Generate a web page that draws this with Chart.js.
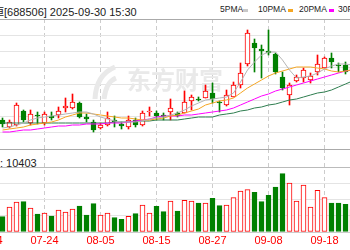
<!DOCTYPE html>
<html>
<head>
<meta charset="utf-8">
<script src="https://cdn.jsdelivr.net/npm/chart.js@4.4.1/dist/chart.umd.min.js"></script>
<style>
  body { margin: 0; width: 350px; height: 250px; overflow: hidden; background: #fff; position: relative; }
  .txt { position: absolute; white-space: nowrap; font-family: "Liberation Sans", "Noto Sans CJK SC", sans-serif; color: #222; }
  #title { left: -40px; top: 3px; font-size: 11px; }
  .lg { top: 4px; font-size: 8.5px; }
  .mk { position: absolute; top: 9px; width: 5px; height: 3px; }
  #volLabel { left: -33px; top: 154px; font-size: 11px; }
  #kline { position: absolute; left: 0; top: 19px; }
  #vol { position: absolute; left: 0; top: 149px; }
</style>
</head>
<body>
<div id="title" class="txt">百利天恒[688506] 2025-09-30 15:30</div>
<div class="txt lg" style="left:220px">5PMA</div><div class="mk" style="left:243px;background:#c8c8c8"></div>
<div class="txt lg" style="left:258px">10PMA</div><div class="mk" style="left:288px;background:#f5a623"></div>
<div class="txt lg" style="left:299px">20PMA</div><div class="mk" style="left:329px;background:#ff00ff"></div>
<div class="txt lg" style="left:338px">30PMA</div>
<div id="volLabel" class="txt">成交量: 10403</div>
<canvas id="kline" width="350" height="130"></canvas>
<canvas id="vol" width="350" height="101"></canvas>
<script>
// 日期刻度 (索引 -> 标签)
const dateTicks = [-2, 6, 14, 22, 30, 38, 46];
const dateLabels = ['07-14', '07-24', '08-05', '08-15', '08-27', '09-08', '09-18'];

// K线数据 07-16 .. 09-24
const opens  = [299,292,294,308,296,304,296,303,304,311,311,316,302,297,291,294,299,295,292,299,294,307,306,304,307,306,306,318,320,321,326,317,314,322,334,355,376,370,368,365,342,324,338,341,339,347,351,361,354,354,349];
const closes = [295,297,314,299,305,303,305,301,308,313,317,302,300,289,294,301,297,293,299,294,306,308,303,302,311,303,317,322,319,328,320,316,324,334,346,386,371,368,366,347,331,334,342,349,343,355,361,357,353,347,352];
const highs  = [301,299,316,309,309,307,307,307,312,321,325,317,305,299,296,307,303,297,303,301,308,312,308,306,320,307,328,324,322,334,336,318,329,337,356,389,380,374,389,366,347,336,344,351,346,364,362,366,356,357,356];
const lows   = [292,291,293,297,294,295,294,299,301,307,310,301,297,287,290,293,292,290,290,292,293,303,299,299,299,302,306,309,318,321,316,307,313,322,331,353,347,341,364,345,329,314,337,337,336,344,351,351,347,345,346];
const volumes = [3825,6250,7500,7575,6000,4500,4750,4000,5500,5000,5750,6500,4250,7075,4250,4750,3575,3175,3925,4575,6750,4750,6425,5075,7750,5250,7925,7750,7250,7250,8425,6575,6750,8575,10250,10575,9925,7575,9175,11250,14575,12250,7750,11750,6250,10425,8575,7250,7250,6925,5575];

// 均线
const ma5  = [291,292,294,296,299,301,302,303,304,305,306,307,307,305,302,300,298,297,297,297,298,300,301,302,304,306,309,313,316,319,320,321,322,326,337,349,357,364,367,367,359,349,341,342,343,346,350,353,355,355,354];
const ma10 = [289,290,291,292,294,295,296,297,299,302,304,306,306,305,304,303,302,301,301,300,299,299,300,301,303,304,306,308,310,314,316,318,319,321,326,331,335,339,343,346,348,350,352,352,352,351,350,348,347,348,349];
const ma20 = [287,287,288,289,289,290,291,292,293,293,294,294,295,295,295,296,296,296,297,298,299,300,302,303,303,303,304,304,305,306,307,308,309,311,314,317,320,323,325,328,330,332,334,336,338,340,342,344,346,348,349];
const ma30 = [296,296,296,296,296,296,296,296,296,296,296,296,296,296,296,296,297,297,297,298,298,298,299,299,299,299,300,301,302,302,302,304,305,306,308,309,311,312,314,315,317,319,320,322,324,326,327,329,332,335,338];

const RED = '#ff0000';
const GREEN = '#008000';
const xMin = -2.5 / 7;
const xMax = xMin + 50;

const idx = opens.map((_, i) => i);
const up = idx.map(i => closes[i] >= opens[i]);

function maLine(label, values, color) {
    return {
        type: 'line',
        label: label,
        data: values.map((v, i) => ({ x: i, y: v })),
        borderColor: color,
        borderWidth: 1,
        pointRadius: 0,
        tension: 0
    };
}

const xScale = {
    type: 'linear',
    min: xMin,
    max: xMax,
    offset: false,
    afterBuildTicks: s => { s.ticks = dateTicks.map(v => ({ value: v })); },
    ticks: { display: false },
    grid: { color: '#cccccc', drawTicks: false, offset: false },
    border: { display: false, dash: [4, 3] }
};

// 水印
const watermark = {
    id: 'watermark',
    beforeDatasetsDraw(chart) {
        const ctx = chart.ctx;
        ctx.save();
        ctx.strokeStyle = '#e9e9e9';
        ctx.lineWidth = 5;
        ctx.beginPath();
        ctx.moveTo(95, 80);
        ctx.quadraticCurveTo(96, 56, 115, 48);
        ctx.moveTo(104, 80);
        ctx.quadraticCurveTo(106, 63, 116, 59);
        ctx.stroke();
        ctx.fillStyle = '#e9e9e9';
        ctx.font = 'bold 24px "Noto Sans CJK SC"';
        ctx.textBaseline = 'middle';
        ctx.fillText('东方财富', 127, 61);
        ctx.restore();
    }
};

new Chart(document.getElementById('kline'), {
    type: 'bar',
    data: {
        datasets: [
            maLine('MA5', ma5, '#b4b4b4'),
            maLine('MA10', ma10, '#f5a623'),
            maLine('MA20', ma20, '#ff00ff'),
            maLine('MA30', ma30, '#2e7d4f'),
            {
                label: 'body',
                data: idx.map(i => ({ x: i, y: [opens[i], closes[i]] })),
                backgroundColor: idx.map(i => up[i] ? '#ffffff' : GREEN),
                borderColor: idx.map(i => up[i] ? RED : GREEN),
                borderWidth: 1,
                borderSkipped: false,
                barThickness: 5,
                grouped: false
            },
            {
                label: 'wick',
                data: idx.map(i => ({ x: i, y: [lows[i], highs[i]] })),
                backgroundColor: idx.map(i => up[i] ? RED : GREEN),
                borderWidth: 0,
                barThickness: 1,
                grouped: false
            }
        ]
    },
    options: {
        responsive: false,
        animation: false,
        layout: { padding: 0 },
        plugins: { legend: { display: false }, tooltip: { enabled: false } },
        scales: {
            x: xScale,
            y: {
                min: 270,
                max: 400,
                afterBuildTicks: s => { s.ticks = [0, 1, 2, 3, 4, 5, 6, 7, 8].map(k => ({ value: 270 + k * 16.25 })); },
                ticks: { display: false },
                grid: { color: c => c.tick.value >= 400 ? '#aaaaaa' : '#e4e4e4', drawTicks: false },
                border: { display: false }
            }
        }
    },
    plugins: [watermark]
});

// 日期标签
const dateText = {
    id: 'dateText',
    afterDraw(chart) {
        const ctx = chart.ctx;
        const sx = chart.scales.x;
        ctx.save();
        ctx.fillStyle = RED;
        ctx.font = '11px "Liberation Sans"';
        ctx.textAlign = 'center';
        ctx.textBaseline = 'middle';
        dateTicks.forEach((v, k) => {
            ctx.fillText(dateLabels[k], sx.getPixelForValue(v), chart.chartArea.bottom + 9);
        });
        ctx.restore();
    }
};

const volMax = 83 * 250;
new Chart(document.getElementById('vol'), {
    type: 'bar',
    data: {
        datasets: [{
            label: 'vol',
            data: idx.map(i => ({ x: i, y: volumes[i] })),
            backgroundColor: idx.map(i => up[i] ? '#ffffff' : GREEN),
            borderColor: idx.map(i => up[i] ? RED : GREEN),
            borderWidth: 1,
            borderSkipped: false,
            barThickness: 5
        }]
    },
    options: {
        responsive: false,
        animation: false,
        layout: { padding: { bottom: 18 } },
        plugins: { legend: { display: false }, tooltip: { enabled: false } },
        scales: {
            x: xScale,
            y: {
                min: 0,
                max: volMax,
                afterBuildTicks: s => { s.ticks = [0, 4062.5, 8125, 12187.5, 16250, volMax].map(v => ({ value: v })); },
                ticks: { display: false },
                grid: {
                    color: c => c.tick.value >= volMax ? '#aaaaaa' : (c.tick.value === 16250 ? '#bbbbbb' : (c.tick.value === 0 ? '#cccccc' : '#e4e4e4')),
                    drawTicks: false
                },
                border: { display: false }
            }
        }
    },
    plugins: [dateText]
});
</script>
</body>
</html>
